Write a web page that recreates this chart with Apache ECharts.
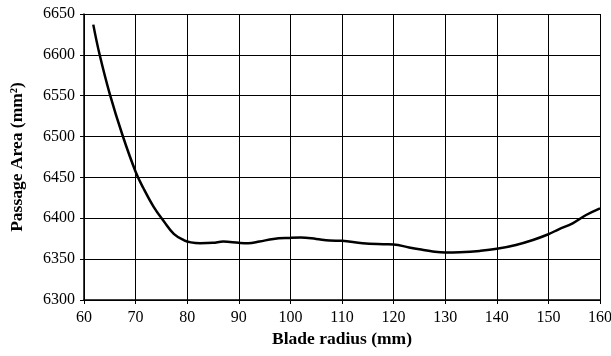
<!DOCTYPE html>
<html lang="en">
<head>
    <meta charset="UTF-8">
    <title>Passage Area</title>
    <script src="https://cdn.jsdelivr.net/npm/echarts@6/dist/echarts.min.js"></script>
    <style>
        * { margin: 0; padding: 0; }
        html, body { width: 100%; height: 100%; background: #fff; }
    </style>
</head>
<body>
    <div id="main" style="width: 611px;height:356px;"></div>
<script>
    // blade radius (mm) and passage area (mm2)
    var radius = [61.8, 63, 65, 67.5, 70, 71.5, 73.5, 75.5, 77.4, 79.4, 80.7, 82.5, 85, 87, 90, 91.8, 94, 96.7,
        100, 102, 105, 107.6, 110, 114, 118, 120, 123, 125, 127.6, 130, 132.8, 136.7, 140, 143.7, 147, 150,
        152, 154.7, 157.3, 160];
    var area = [6637, 6601, 6552, 6501, 6457, 6437, 6414, 6396, 6381, 6373, 6370.5, 6369.5, 6370, 6371.5, 6370, 6369.5, 6371.5, 6374.7,
        6376, 6376.4, 6374.7, 6372.8, 6372.4, 6369.5, 6368.3, 6368, 6364.3, 6362, 6359.3, 6358, 6358.4, 6360.1, 6362.6, 6367.4, 6373.5, 6380.5,
        6386.5, 6393.9, 6404, 6412.2];

    var points = [];
    for (var i = 0; i < radius.length; i++) {
        points.push([radius[i], area[i]]);
    }

    var font = '"Liberation Serif", "Times New Roman", serif';
    var myChart = echarts.init(document.getElementById('main'));
    myChart.setOption({
        animation: false,
        grid: { left: 84, right: 11, top: 14, bottom: 56, containLabel: false, outerBoundsMode: 'none' },
        xAxis: {
            type: 'value',
            min: 60, max: 160, interval: 10,
            name: 'Blade radius (mm)',
            nameLocation: 'middle',
            nameGap: 30,
            nameTextStyle: { fontFamily: font, fontSize: 17.5, fontWeight: 'bold', color: '#000' },
            axisLine: { lineStyle: { color: '#000', width: 1.5 } },
            axisTick: { show: true, length: 4, lineStyle: { color: '#000' } },
            axisLabel: { fontFamily: font, fontSize: 16, color: '#000', margin: 10 },
            splitLine: { show: true, lineStyle: { color: '#000', width: 1 } }
        },
        yAxis: {
            type: 'value',
            min: 6300, max: 6650, interval: 50,
            name: 'Passage Area (mm²)',
            nameLocation: 'middle',
            nameGap: 58,
            nameTextStyle: { fontFamily: font, fontSize: 17.5, fontWeight: 'bold', color: '#000' },
            axisLine: { show: true, lineStyle: { color: '#000', width: 1.5 } },
            axisTick: { show: true, length: 4, lineStyle: { color: '#000' } },
            axisLabel: {
                fontFamily: font, fontSize: 16, color: '#000', margin: 9,
                formatter: function (v) { return String(v); }
            },
            splitLine: { show: true, lineStyle: { color: '#000', width: 1 } }
        },
        series: [{
            type: 'line',
            data: points,
            smooth: 0.4,
            showSymbol: false,
            lineStyle: { color: '#000', width: 2.5 }
        }]
    });
</script>
</body>
</html>
